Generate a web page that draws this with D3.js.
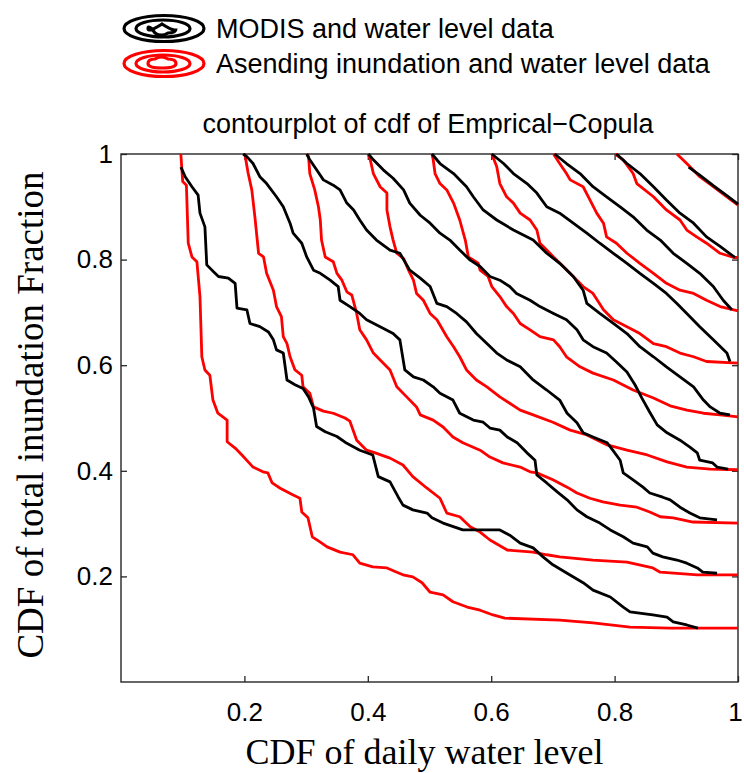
<!DOCTYPE html>
<html>
<head>
<meta charset="utf-8">
<script src="https://d3js.org/d3.v7.min.js"></script>
<style>
  body { margin: 0; background: #fff; }
  svg { display: block; }
</style>
</head>
<body>
<div id="chart"></div>
<script>
/*
* Contour plot of the empirical copula cdf, two data sets
*/

const levels = [0.1, 0.2, 0.3, 0.4, 0.5, 0.6, 0.7, 0.8, 0.9];
const xTicks = [0.2, 0.4, 0.6, 0.8, 1];
const yTicks = [0.2, 0.4, 0.6, 0.8, 1];

// MODIS and water level data, one contour per level, [u, v]
const modis01 = [[0.097,0.975],[0.104,0.957],[0.115,0.938],[0.125,0.922],[0.128,0.888],[0.136,0.862],[0.139,0.790],[0.150,0.777],[0.158,0.768],[0.174,0.765],[0.185,0.755],[0.188,0.708],[0.204,0.705],[0.209,0.679],[0.225,0.673],[0.239,0.663],[0.247,0.648],[0.252,0.629],[0.263,0.623],[0.269,0.572],[0.282,0.563],[0.295,0.556],[0.304,0.540],[0.312,0.519],[0.317,0.484],[0.331,0.474],[0.350,0.465],[0.366,0.452],[0.387,0.439],[0.408,0.430],[0.417,0.389],[0.436,0.379],[0.449,0.351],[0.457,0.335],[0.473,0.326],[0.496,0.320],[0.504,0.311],[0.522,0.301],[0.554,0.288],[0.614,0.288],[0.630,0.278],[0.647,0.263],[0.668,0.254],[0.684,0.237],[0.700,0.222],[0.723,0.206],[0.749,0.188],[0.765,0.174],[0.793,0.161],[0.814,0.142],[0.825,0.133],[0.862,0.127],[0.885,0.123],[0.895,0.114],[0.917,0.108],[0.935,0.102]];
const modis02 = [[0.198,1],[0.204,0.995],[0.214,0.982],[0.225,0.957],[0.236,0.944],[0.252,0.919],[0.263,0.900],[0.274,0.869],[0.279,0.850],[0.293,0.831],[0.301,0.805],[0.312,0.780],[0.323,0.774],[0.339,0.761],[0.352,0.749],[0.355,0.723],[0.371,0.711],[0.387,0.698],[0.398,0.686],[0.420,0.673],[0.441,0.660],[0.452,0.648],[0.460,0.591],[0.474,0.578],[0.490,0.572],[0.506,0.559],[0.517,0.547],[0.538,0.534],[0.549,0.509],[0.571,0.496],[0.587,0.492],[0.598,0.481],[0.614,0.477],[0.626,0.464],[0.642,0.453],[0.658,0.434],[0.671,0.420],[0.674,0.392],[0.690,0.377],[0.707,0.360],[0.723,0.345],[0.739,0.326],[0.755,0.313],[0.776,0.301],[0.793,0.288],[0.814,0.275],[0.830,0.263],[0.853,0.256],[0.862,0.244],[0.878,0.237],[0.901,0.231],[0.917,0.225],[0.934,0.216],[0.943,0.208],[0.966,0.206]];
const modis03 = [[0.301,1],[0.306,0.989],[0.317,0.970],[0.328,0.951],[0.344,0.941],[0.355,0.932],[0.366,0.907],[0.377,0.894],[0.387,0.875],[0.398,0.856],[0.414,0.837],[0.436,0.818],[0.452,0.812],[0.468,0.780],[0.485,0.765],[0.501,0.749],[0.512,0.717],[0.528,0.711],[0.544,0.698],[0.560,0.682],[0.576,0.660],[0.593,0.641],[0.609,0.623],[0.625,0.610],[0.647,0.597],[0.668,0.572],[0.690,0.553],[0.711,0.534],[0.723,0.509],[0.739,0.491],[0.749,0.472],[0.765,0.464],[0.788,0.453],[0.797,0.439],[0.809,0.420],[0.814,0.396],[0.830,0.383],[0.846,0.369],[0.857,0.358],[0.878,0.350],[0.890,0.345],[0.906,0.331],[0.922,0.320],[0.938,0.311],[0.966,0.307]];
const modis04 = [[0.401,1],[0.409,0.989],[0.425,0.970],[0.441,0.954],[0.458,0.932],[0.468,0.907],[0.485,0.884],[0.501,0.869],[0.517,0.850],[0.533,0.837],[0.549,0.818],[0.566,0.799],[0.582,0.787],[0.598,0.768],[0.614,0.761],[0.630,0.749],[0.641,0.736],[0.663,0.723],[0.679,0.711],[0.701,0.698],[0.722,0.686],[0.739,0.667],[0.749,0.648],[0.765,0.635],[0.787,0.623],[0.803,0.606],[0.820,0.587],[0.833,0.563],[0.844,0.538],[0.857,0.511],[0.869,0.487],[0.885,0.472],[0.906,0.458],[0.922,0.445],[0.934,0.434],[0.938,0.420],[0.959,0.415],[0.966,0.407],[0.984,0.403]];
const modis05 = [[0.504,1],[0.517,0.982],[0.539,0.963],[0.560,0.938],[0.571,0.919],[0.587,0.894],[0.609,0.875],[0.636,0.856],[0.668,0.837],[0.690,0.812],[0.711,0.793],[0.733,0.768],[0.749,0.742],[0.755,0.717],[0.776,0.698],[0.798,0.679],[0.820,0.660],[0.841,0.635],[0.863,0.616],[0.884,0.597],[0.906,0.578],[0.928,0.559],[0.944,0.534],[0.955,0.521],[0.971,0.509],[0.987,0.506]];
const modis06 = [[0.601,1],[0.620,0.982],[0.636,0.963],[0.658,0.944],[0.674,0.926],[0.690,0.900],[0.711,0.888],[0.733,0.869],[0.755,0.850],[0.776,0.831],[0.798,0.812],[0.820,0.793],[0.841,0.774],[0.863,0.755],[0.884,0.736],[0.901,0.717],[0.917,0.698],[0.938,0.673],[0.960,0.648],[0.982,0.623],[0.987,0.607]];
const modis07 = [[0.703,1],[0.722,0.982],[0.744,0.963],[0.765,0.938],[0.787,0.919],[0.809,0.900],[0.830,0.881],[0.852,0.856],[0.874,0.837],[0.895,0.812],[0.917,0.793],[0.938,0.774],[0.960,0.749],[0.976,0.723],[0.990,0.705]];
const modis08 = [[0.803,1],[0.820,0.982],[0.841,0.963],[0.863,0.938],[0.884,0.913],[0.906,0.888],[0.928,0.869],[0.949,0.843],[0.971,0.825],[0.995,0.804]];
const modis09 = [[0.920,0.975],[0.938,0.960],[0.960,0.940],[0.982,0.921],[1,0.905]];

// Asending inundation and water level data
const asc01 = [[0.097,1],[0.100,0.948],[0.106,0.941],[0.109,0.831],[0.115,0.805],[0.123,0.796],[0.128,0.730],[0.131,0.616],[0.136,0.591],[0.144,0.581],[0.149,0.534],[0.157,0.509],[0.172,0.496],[0.172,0.455],[0.185,0.443],[0.196,0.430],[0.214,0.407],[0.230,0.398],[0.238,0.396],[0.245,0.377],[0.258,0.367],[0.279,0.354],[0.290,0.348],[0.293,0.322],[0.303,0.311],[0.310,0.275],[0.323,0.265],[0.334,0.256],[0.355,0.246],[0.376,0.241],[0.387,0.225],[0.408,0.218],[0.431,0.216],[0.447,0.208],[0.457,0.203],[0.473,0.199],[0.488,0.188],[0.501,0.170],[0.522,0.165],[0.538,0.152],[0.561,0.142],[0.582,0.136],[0.603,0.127],[0.622,0.121],[0.711,0.117],[0.765,0.112],[0.825,0.104],[0.890,0.102],[1,0.102]];
const asc02 = [[0.199,1],[0.201,0.998],[0.206,0.964],[0.212,0.932],[0.217,0.881],[0.223,0.812],[0.231,0.805],[0.236,0.774],[0.247,0.742],[0.252,0.711],[0.260,0.692],[0.263,0.654],[0.269,0.641],[0.274,0.616],[0.282,0.591],[0.293,0.581],[0.295,0.559],[0.306,0.547],[0.312,0.521],[0.328,0.513],[0.344,0.509],[0.363,0.500],[0.371,0.494],[0.382,0.458],[0.398,0.439],[0.412,0.434],[0.436,0.424],[0.457,0.411],[0.473,0.389],[0.496,0.367],[0.517,0.348],[0.528,0.320],[0.549,0.313],[0.566,0.294],[0.582,0.284],[0.598,0.269],[0.626,0.250],[0.668,0.246],[0.690,0.241],[0.711,0.237],[0.765,0.231],[0.820,0.227],[0.862,0.216],[0.874,0.208],[0.934,0.203],[1,0.203]];
const asc03 = [[0.301,1],[0.304,0.995],[0.306,0.963],[0.314,0.932],[0.320,0.900],[0.323,0.875],[0.325,0.837],[0.331,0.805],[0.344,0.796],[0.350,0.774],[0.358,0.761],[0.366,0.739],[0.374,0.733],[0.382,0.698],[0.387,0.667],[0.398,0.648],[0.409,0.623],[0.420,0.610],[0.436,0.591],[0.447,0.559],[0.463,0.540],[0.479,0.521],[0.485,0.506],[0.506,0.496],[0.522,0.483],[0.538,0.464],[0.554,0.453],[0.582,0.439],[0.598,0.426],[0.619,0.415],[0.647,0.407],[0.663,0.398],[0.674,0.396],[0.700,0.383],[0.723,0.369],[0.739,0.358],[0.760,0.348],[0.781,0.341],[0.809,0.335],[0.836,0.331],[0.857,0.322],[0.874,0.313],[0.895,0.311],[0.927,0.303],[1,0.301]];
const asc04 = [[0.401,1],[0.404,0.989],[0.409,0.963],[0.420,0.938],[0.431,0.926],[0.431,0.894],[0.436,0.862],[0.441,0.837],[0.447,0.812],[0.458,0.802],[0.466,0.780],[0.474,0.761],[0.479,0.736],[0.490,0.723],[0.501,0.698],[0.512,0.686],[0.528,0.654],[0.539,0.635],[0.549,0.616],[0.560,0.591],[0.576,0.572],[0.593,0.559],[0.614,0.540],[0.630,0.528],[0.647,0.515],[0.668,0.506],[0.700,0.492],[0.728,0.477],[0.755,0.468],[0.788,0.449],[0.820,0.439],[0.853,0.430],[0.885,0.417],[0.917,0.407],[0.955,0.403],[1,0.402]];
const asc05 = [[0.504,1],[0.506,0.989],[0.509,0.963],[0.517,0.944],[0.528,0.932],[0.539,0.907],[0.549,0.875],[0.558,0.837],[0.563,0.805],[0.579,0.793],[0.582,0.780],[0.595,0.768],[0.601,0.749],[0.614,0.730],[0.625,0.711],[0.636,0.698],[0.647,0.679],[0.663,0.667],[0.679,0.654],[0.701,0.648],[0.711,0.635],[0.722,0.616],[0.744,0.597],[0.765,0.585],[0.798,0.572],[0.830,0.553],[0.863,0.538],[0.890,0.523],[0.917,0.515],[0.944,0.509],[0.971,0.506],[1,0.502]];
const asc06 = [[0.601,1],[0.609,0.976],[0.614,0.944],[0.625,0.919],[0.636,0.907],[0.647,0.888],[0.663,0.875],[0.674,0.856],[0.679,0.831],[0.690,0.818],[0.701,0.805],[0.717,0.787],[0.733,0.768],[0.749,0.749],[0.765,0.736],[0.782,0.705],[0.798,0.686],[0.820,0.673],[0.841,0.660],[0.863,0.641],[0.884,0.635],[0.906,0.623],[0.928,0.616],[0.949,0.607],[1,0.604]];
const asc07 = [[0.701,1],[0.711,0.982],[0.722,0.963],[0.728,0.951],[0.749,0.938],[0.760,0.913],[0.771,0.888],[0.782,0.869],[0.787,0.843],[0.803,0.831],[0.820,0.812],[0.841,0.793],[0.863,0.774],[0.884,0.755],[0.906,0.742],[0.928,0.736],[0.949,0.723],[0.971,0.711],[1,0.703]];
const asc08 = [[0.801,1],[0.814,0.989],[0.830,0.963],[0.836,0.944],[0.863,0.919],[0.884,0.894],[0.906,0.875],[0.917,0.856],[0.933,0.843],[0.949,0.831],[0.971,0.812],[0.993,0.804],[1,0.804]];
const asc09 = [[0.901,1],[0.917,0.982],[0.938,0.957],[0.960,0.938],[0.982,0.919],[1,0.903]];

const modisLines = [modis01, modis02, modis03, modis04, modis05, modis06, modis07, modis08, modis09];
const ascLines = [asc01, asc02, asc03, asc04, asc05, asc06, asc07, asc08, asc09];

const legendLabels = ['MODIS and water level data', 'Asending inundation and water level data'];

let COLORS = {
  modis: '#000000',
  asc: '#ff0000',
  axis: '#262626'
};

const W = 744, H = 773;
const plot = { left: 121, right: 738, top: 154, bottom: 682 };
const SANS = '"Liberation Sans", Arial, sans-serif';
const SERIF = '"Liberation Serif", "Times New Roman", serif';

let svg, x, y;

window.onload = function () {
  svg = d3.select('#chart').append('svg')
    .attr('width', W)
    .attr('height', H);

  x = d3.scaleLinear().domain([0, 1]).range([plot.left, plot.right]);
  y = d3.scaleLinear().domain([0, 1]).range([plot.bottom, plot.top]);

  drawAxes();
  drawContours();
  drawLegend();
};

function drawAxes() {
  let fmt = function (d) { return String(d); };

  let gx = svg.append('g')
    .attr('transform', 'translate(0,' + plot.bottom + ')')
    .call(d3.axisBottom(x).tickValues(xTicks).tickFormat(fmt)
      .tickSizeInner(-6).tickSizeOuter(0).tickPadding(21));

  // the "1" at the far right sits right on the window edge
  gx.selectAll('.tick text').filter(function (d) { return d === 1; }).attr('dx', -3);

  let gy = svg.append('g')
    .attr('transform', 'translate(' + plot.left + ',0)')
    .call(d3.axisLeft(y).tickValues(yTicks).tickFormat(fmt)
      .tickSizeInner(-6).tickSizeOuter(0).tickPadding(8));

  // mirrored ticks on top and right, no labels
  let gt = svg.append('g')
    .attr('transform', 'translate(0,' + plot.top + ')')
    .call(d3.axisTop(x).tickValues(xTicks).tickFormat('')
      .tickSizeInner(-6).tickSizeOuter(0));

  let gr = svg.append('g')
    .attr('transform', 'translate(' + plot.right + ',0)')
    .call(d3.axisRight(y).tickValues(yTicks).tickFormat('')
      .tickSizeInner(-6).tickSizeOuter(0));

  [gx, gy, gt, gr].forEach(function (g) {
    g.attr('font-family', SANS).attr('font-size', 26);
    g.selectAll('.domain').remove();
    g.selectAll('line').attr('stroke', COLORS.axis).attr('stroke-width', 1.3);
    g.selectAll('text').attr('fill', '#000');
  });

  svg.append('rect')
    .attr('x', plot.left)
    .attr('y', plot.top)
    .attr('width', plot.right - plot.left)
    .attr('height', plot.bottom - plot.top)
    .attr('fill', 'none')
    .attr('stroke', COLORS.axis)
    .attr('stroke-width', 1.4);

  svg.append('text')
    .attr('x', 428)
    .attr('y', 133)
    .attr('text-anchor', 'middle')
    .attr('font-family', SANS)
    .attr('font-size', 27)
    .text('contourplot of cdf of Emprical\u2212Copula');

  svg.append('text')
    .attr('x', (plot.left + plot.right) / 2 - 5)
    .attr('y', 764)
    .attr('text-anchor', 'middle')
    .attr('font-family', SERIF)
    .attr('font-size', 36)
    .text('CDF of daily water level');

  svg.append('text')
    .attr('transform', 'translate(43,' + ((plot.top + plot.bottom) / 2 - 3) + ') rotate(-90)')
    .attr('text-anchor', 'middle')
    .attr('font-family', SERIF)
    .attr('font-size', 37)
    .text('CDF of total inundation Fraction');
}

function drawContours() {
  let line = d3.line()
    .x(function (d) { return x(d[0]); })
    .y(function (d) { return y(d[1]); });

  svg.append('g').attr('class', 'asc')
    .selectAll('path')
    .data(ascLines)
    .enter().append('path')
    .attr('d', line)
    .attr('fill', 'none')
    .attr('stroke', COLORS.asc)
    .attr('stroke-width', 2.8)
    .attr('stroke-linejoin', 'round');

  svg.append('g').attr('class', 'modis')
    .selectAll('path')
    .data(modisLines)
    .enter().append('path')
    .attr('d', line)
    .attr('fill', 'none')
    .attr('stroke', COLORS.modis)
    .attr('stroke-width', 2.8)
    .attr('stroke-linejoin', 'round');
}

function drawLegend() {
  let rows = [
    { label: legendLabels[0], color: COLORS.modis, cy: 28.5, base: 38 },
    { label: legendLabels[1], color: COLORS.asc, cy: 63.5, base: 73 }
  ];

  rows.forEach(function (r) {
    let g = svg.append('g')
      .attr('fill', 'none')
      .attr('stroke', r.color)
      .attr('stroke-width', 3.2);

    g.append('ellipse').attr('cx', 164).attr('cy', r.cy).attr('rx', 40).attr('ry', 13);
    g.append('ellipse').attr('cx', 163).attr('cy', r.cy).attr('rx', 27).attr('ry', 8.5);

    // small inner loop with a bump
    let bump = r.color === COLORS.modis ? -1 : 1;
    let p = d3.path();
    p.moveTo(148, r.cy);
    p.quadraticCurveTo(148, r.cy - 4.5, 155, r.cy - 4.5 * bump);
    p.quadraticCurveTo(161, r.cy - 9 * bump, 168, r.cy - 4.5 * bump);
    p.quadraticCurveTo(176, r.cy - 4.5 * bump, 176, r.cy);
    p.quadraticCurveTo(176, r.cy + 4.5, 162, r.cy + 4.5 * bump);
    p.quadraticCurveTo(148, r.cy + 4.5, 148, r.cy);
    g.append('path').attr('d', p.toString());

    svg.append('text')
      .attr('x', 216)
      .attr('y', r.base)
      .attr('font-family', SANS)
      .attr('font-size', 27)
      .attr('fill', '#000')
      .text(r.label);
  });
}
</script>
</body>
</html>
